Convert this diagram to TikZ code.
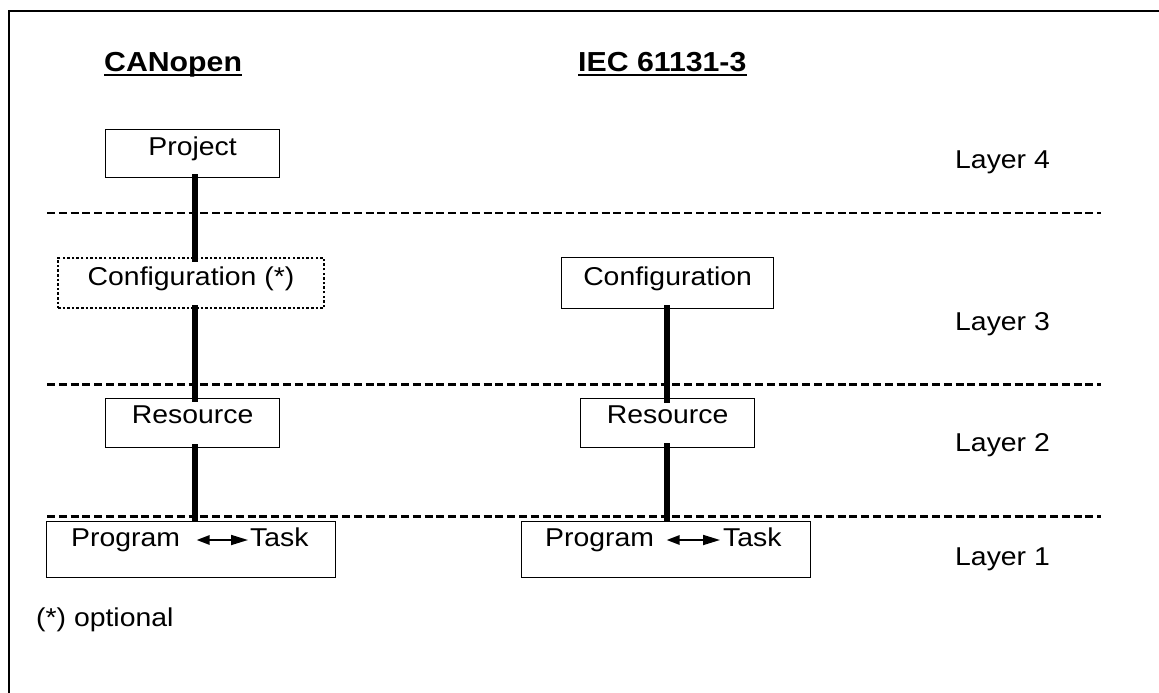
\documentclass[tikz,border=0pt]{standalone}
\usepackage{fontspec}
\setmainfont{Liberation Sans}[FakeStretch=1.1]
\usetikzlibrary{arrows.meta,calc}
\begin{document}
\begin{tikzpicture}[x=1pt,y=-1pt,
  body/.style={font=\fontsize{25.8}{30}\selectfont},
  ttl/.style={font=\fontsize{27.5}{32}\selectfont\bfseries, inner sep=0pt, anchor=base west},
  lbl/.style={body, inner sep=0pt, anchor=base west},
  box/.style={draw, line width=1.3pt, inner xsep=0pt, inner ysep=0pt, anchor=north west, body, align=center},
  optbox/.style={box, line width=2.1pt, dash pattern=on 2.5pt off 2.1pt},
  trunk/.style={line width=6.2pt},
  sep/.style={line width=2.6pt, dash pattern=on 8pt off 3.8pt},
  swap/.style={line width=1.7pt, {Triangle[length=13pt,width=9.5pt]}-{Triangle[length=17pt,width=10pt]}},
  uline/.style={line width=2pt}
]
\useasboundingbox (0,0) rectangle (1159,693);

% outer frame (only the top and left edges fall inside the page)
\draw[line width=1.7pt] (9,693) -- (9,11) -- (1159,11);

% column headings
\node[ttl] (hcan) at (104,71.5) {CANopen};
\node[ttl] (hiec) at (578,71.5) {IEC 61131-3};
\draw[uline] ($(hcan.base west)+(0,3.5)$) -- ($(hcan.base east)+(0,3.5)$);
\draw[uline] ($(hiec.base west)+(0,3.5)$) -- ($(hiec.base east)+(0,3.5)$);

% layer separators
\draw[sep] (47,213) -- (1101,213);
\draw[sep] (47,384.3) -- (1101,384.3);
\draw[sep] (47,516.7) -- (1101,516.7);

% layer names
\node[lbl] (l4) at (955,168.3) {Layer 4};
\node[lbl] (l3) at (955,330) {Layer 3};
\node[lbl] (l2) at (955,451.7) {Layer 2};
\node[lbl] (l1) at (955,565) {Layer 1};

% CANopen column
\node[box, minimum width=174pt, text height=26pt, text depth=22pt] (proj) at (105,129) {Project};
\node[optbox, minimum width=266pt, text height=27pt, text depth=23pt] (cfgL) at (57,257) {Configuration (*)};
\node[box, minimum width=174pt, text height=25pt, text depth=24pt] (resL) at (105,398) {Resource};
\node[box, minimum width=289pt, minimum height=56pt] (prgboxL) at (46,521) {};
\node[lbl] (prgL) at (71,546.7) {Program};
\node[lbl] (taskL) at (250,546.7) {Task};
\draw[swap] ($(prgL.base east)+(16.5,-6.7)$) -- ($(taskL.base west)+(-2,-6.7)$);

% IEC 61131-3 column
\node[box, minimum width=212pt, text height=28pt, text depth=23pt] (cfgR) at (561,257) {Configuration};
\node[box, minimum width=174pt, text height=25pt, text depth=24pt] (resR) at (580,398) {Resource};
\node[box, minimum width=289pt, minimum height=56pt] (prgboxR) at (521,521) {};
\node[lbl] (prgR) at (545,546.7) {Program};
\node[lbl] (taskR) at (723,546.7) {Task};
\draw[swap] ($(prgR.base east)+(12.5,-6.7)$) -- ($(taskR.base west)+(-3,-6.7)$);

% footnote
\node[lbl] (note) at (36,626.7) {(*) optional};

% hierarchy links
\coordinate (axL) at (195,0);
\coordinate (axR) at (667,0);
\draw[trunk] ($(proj.south -| axL)+(0,-4)$) -- ($(cfgL.north -| axL)+(0,4.7)$);
\draw[trunk] ($(cfgL.south -| axL)+(0,-4)$) -- ($(resL.north -| axL)+(0,3.7)$);
\draw[trunk] ($(resL.south -| axL)+(0,-4)$) -- ($(prgboxL.north -| axL)+(0,0.7)$);
\draw[trunk] ($(cfgR.south -| axR)+(0,-4)$) -- ($(resR.north -| axR)+(0,4.7)$);
\draw[trunk] ($(resR.south -| axR)+(0,-5)$) -- ($(prgboxR.north -| axR)+(0,0.7)$);
\end{tikzpicture}
\end{document}
